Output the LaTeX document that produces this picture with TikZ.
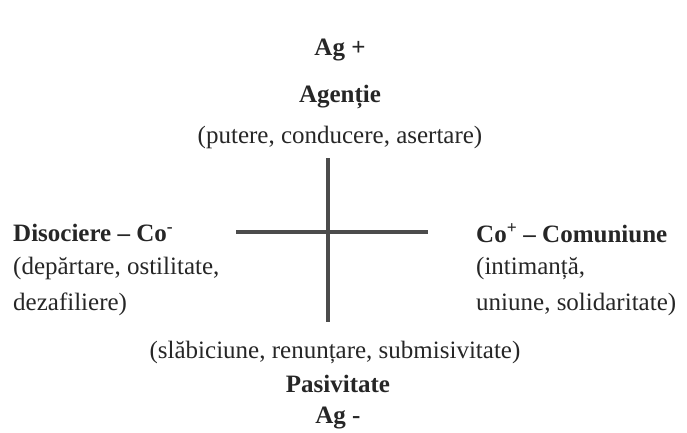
\documentclass[tikz,border=0pt]{standalone}
\usepackage{fontspec}
\setmainfont{Liberation Serif}
\usetikzlibrary{positioning}

\begin{document}
\begin{tikzpicture}[
  x=1pt, y=-1pt,
  lbl/.style={inner sep=0pt, font=\fontsize{25}{30}\selectfont, text=black!85},
  head/.style={lbl, font=\fontsize{25}{30}\selectfont\bfseries},
  axisline/.style={line width=4pt, black!70}
 ]
\useasboundingbox (0,0) rectangle (687,432);
% vertical axis: agentie
\node[head] (agplus)  at (340,50)  {Ag +};
\node[head] (agentie) at (340,97)  {Agenție};
\node[lbl]  (putere)  at (340,137) {(putere, conducere, asertare)};
\node[lbl]  (slab)    at (335,352) {(slăbiciune, renunțare, submisivitate)};
\node[head] (pasiv)   at (338,384) {Pasivitate};
\node[head] (agminus) at (338,418) {Ag -};
% horizontal axis: comuniune
\node[head, anchor=west] (disoc)  at (13,233)  {Disociere – Co\textsuperscript{-}};
\node[lbl, anchor=west]  (depart) at (13,268)  {(depărtare, ostilitate,};
\node[lbl, anchor=west]  (dezaf)  at (13,304)  {dezafiliere)};
\node[head, anchor=west] (comun)  at (476,233) {Co\textsuperscript{+} – Comuniune};
\node[lbl, anchor=west]  (intim)  at (476,268) {(intimanță,};
\node[lbl, anchor=west]  (uniune) at (476,304) {uniune, solidaritate)};
\coordinate (vtop) at (328,158);
\coordinate (vbot) at (328,322);
\coordinate (hleft) at (236,232);
\coordinate (hright) at (428,232);
\draw[axisline] (vtop) -- (vbot);
\draw[axisline] (hleft) -- (hright);
\end{tikzpicture}
\end{document}
